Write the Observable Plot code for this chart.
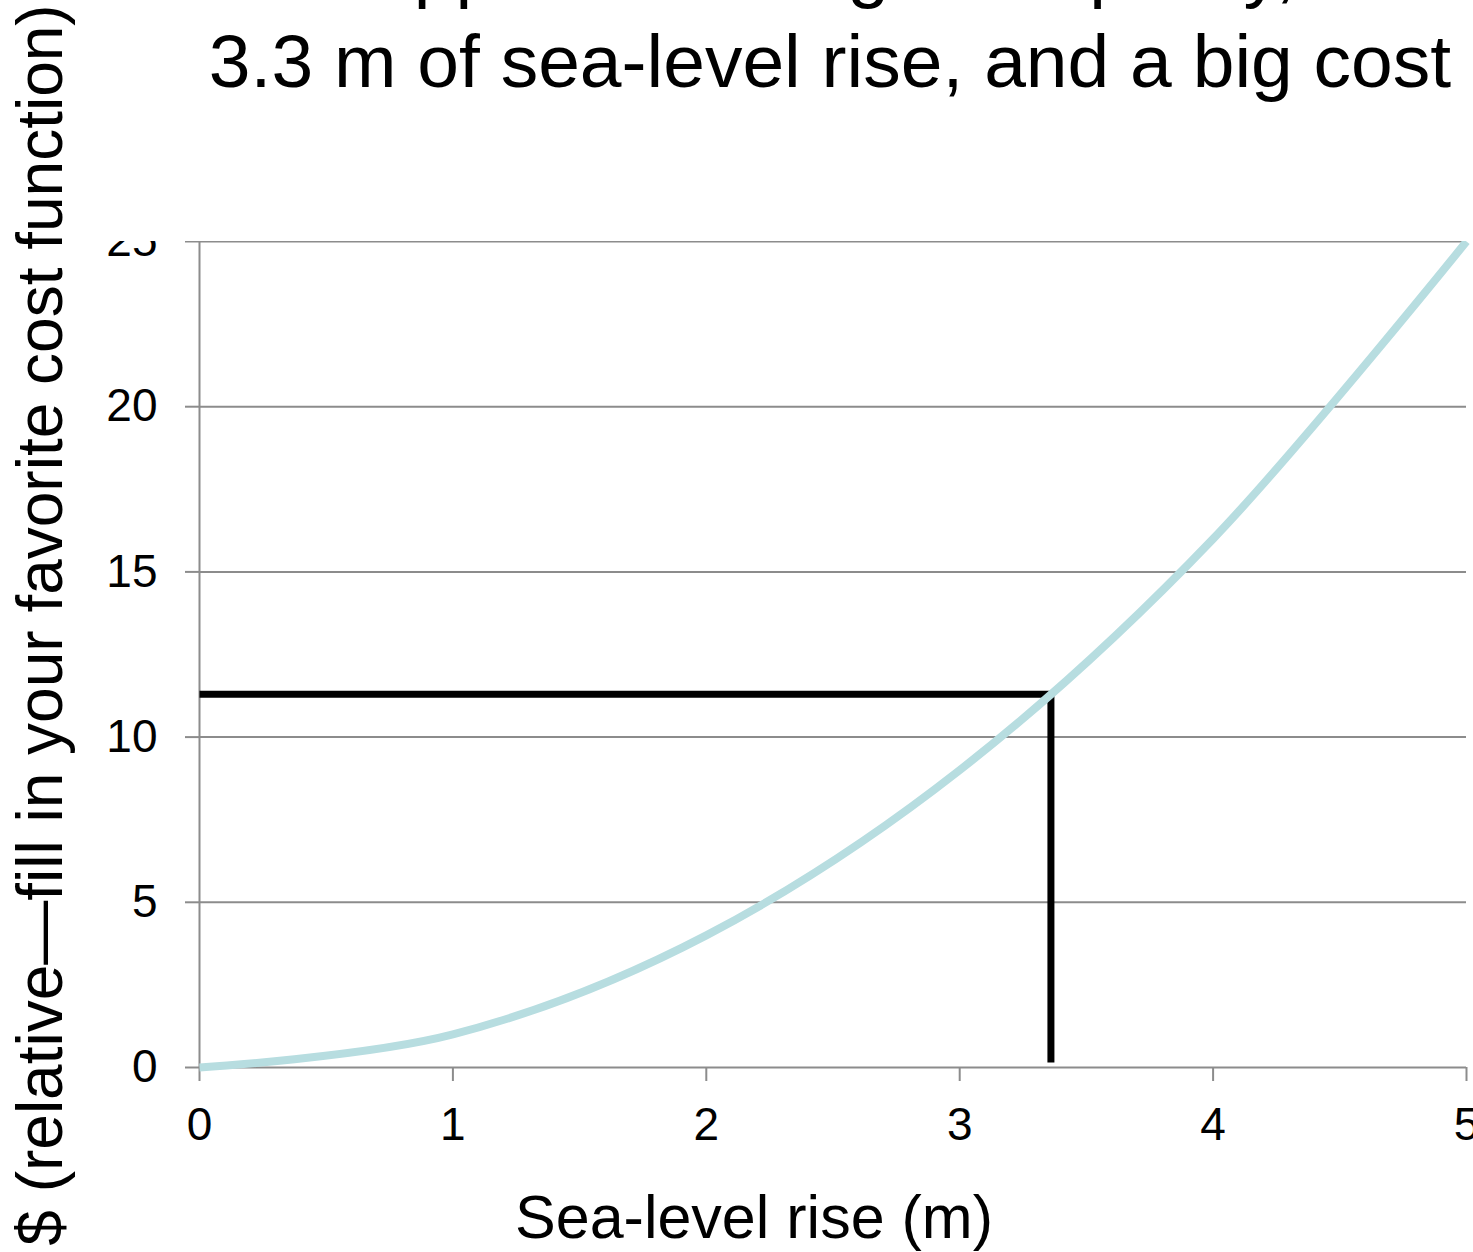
<!DOCTYPE html>
<html>
<head>
<meta charset="utf-8">
<script src="https://cdn.jsdelivr.net/npm/d3@7"></script>
<script src="https://cdn.jsdelivr.net/npm/@observablehq/plot@0.6"></script>
<style>
  html, body { margin: 0; padding: 0; background: white; overflow: hidden; }
  body { width: 1473px; height: 1252px; position: relative; font-family: "Liberation Sans", Arial, sans-serif; color: black; }
  #title { position: absolute; left: 188px; width: 1284px; top: -78.5px; font-size: 75px; line-height: 93px; text-align: center; white-space: nowrap; }
  #chart { position: absolute; left: 0; top: 241px; }
  #ylabel { position: absolute; left: 40px; top: 625px; font-size: 64px; line-height: 64px; white-space: nowrap; transform: translate(-50%, -50%) rotate(-90deg); }
  #xlabel { position: absolute; left: 754px; top: 1186.5px; font-size: 61px; line-height: 61px; white-space: nowrap; transform: translateX(-50%); }
</style>
</head>
<body>
<div id="title"></div>
<div id="chart"></div>
<div id="ylabel"></div>
<div id="xlabel"></div>
<script>
// ---- data ----
const titleLines = ["Approach 1: high risk policy,", "3.3 m of sea-level rise, and a big cost"];
const xLabel = "Sea-level rise (m)";
const yLabel = "$ (relative\u2014fill in your favorite cost function)";
const xTicks = [0, 1, 2, 3, 4, 5];
const yTicks = [0, 5, 10, 15, 20, 25];
const seaLevel = [0, 1, 2, 3, 4, 5];
const cost = [0, 1, 4, 9, 16, 25];
const markerX = [0, 3.36, 3.36];
const markerY = [11.3, 11.3, 0.15];

// ---- text ----
document.getElementById("title").innerHTML = titleLines.join("<br>");
document.getElementById("xlabel").textContent = xLabel;
document.getElementById("ylabel").textContent = yLabel;

const curveData = seaLevel.map((x, i) => ({x, y: cost[i]}));
const markerData = markerX.map((x, i) => ({x, y: markerY[i]}));

const gray = "#8c8c8c";
const chart = Plot.plot({
  width: 1473,
  height: 1011,
  marginTop: 0,
  marginLeft: 199,
  marginRight: 7,
  marginBottom: 185,
  x: {domain: [0, 5]},
  y: {domain: [0, 25]},
  style: {
    fontFamily: "'Liberation Sans', Arial, sans-serif",
    fontSize: "46px",
    color: "black",
    background: "white",
    overflow: "hidden",
    maxWidth: "none"
  },
  marks: [
    Plot.ruleY(yTicks, {stroke: gray, strokeWidth: 2}),
    Plot.ruleX([0], {stroke: gray, strokeWidth: 2}),
    Plot.axisY({ticks: yTicks, tickSize: 14, tickPadding: 28, stroke: gray, strokeWidth: 2, fill: "black", fontSize: 46, label: null, tickFormat: d => String(d)}),
    Plot.axisX({ticks: xTicks, tickSize: 14, tickPadding: 26, stroke: gray, strokeWidth: 2, fill: "black", fontSize: 46, label: null, tickFormat: d => String(d)}),
    Plot.line(markerData, {x: "x", y: "y", stroke: "black", strokeWidth: 7, strokeLinejoin: "miter", strokeLinecap: "butt"}),
    Plot.line(curveData, {x: "x", y: "y", stroke: "#b7dde0", strokeWidth: 8, curve: "cardinal", tension: 0, strokeLinecap: "butt"})
  ]
});
document.getElementById("chart").appendChild(chart);
</script>
</body>
</html>
